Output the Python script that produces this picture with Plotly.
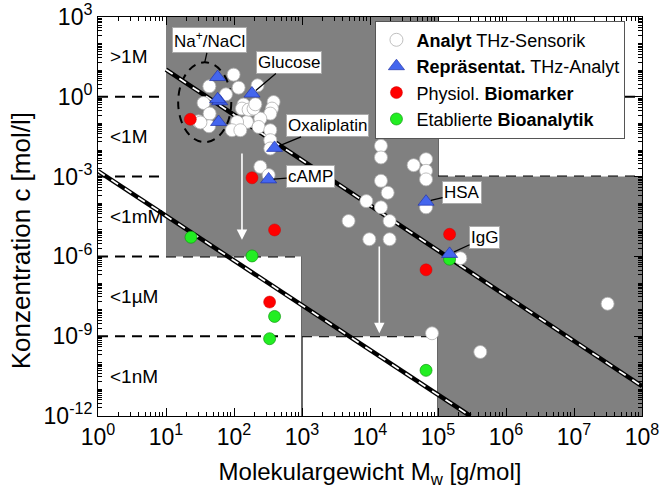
import math
import plotly.graph_objects as go

# ---------------- data ----------------
# Analyt THz-Sensorik (white circles): molecular weight [g/mol], concentration [mol/l]
analyt_M = [98.6, 43.4, 117, 76.2, 222, 35.7, 43.8, 30.1, 42.9, 138, 174, 382, 362, 342,
            244, 155, 111, 93.3, 124, 230, 342, 342, 342, 244, 323, 32.1, 131, 164, 194, 206,
            14500, 14500, 43800, 66700, 66700, 66700, 14500, 18200, 8830, 14500, 19400,
            4840, 9770, 19400, 66700, 213000, 81700, 419000, 3.12e7]
analyt_c = [6.81, 2.48, 2.21, 1.24, 2.70, 0.585, 0.234, 0.120, 0.0783, 0.509, 0.331, 0.638,
            0.361, 0.234, 0.152, 0.113, 0.113, 0.0555, 0.0555, 0.0736, 0.0555, 0.0234, 0.0114,
            0.00233, 0.00114, 0.108, 0.36, 0.33, 0.36, 0.524,
            0.0143, 0.00525, 0.0027, 0.00453, 0.00165, 7.85e-4, 6.95e-4, 2.47e-4, 1.2e-4,
            7.0e-5, 2.14e-5, 2.14e-5, 4.42e-6, 4.42e-6, 7.0e-5, 8.55e-7, 1.29e-9, 2.55e-10,
            1.66e-8]

# Repräsentative THz-Analyte (blue triangles)
rep_M = [57.4, 61.7, 57.4, 59.4, 184, 395, 323, 66700, 148000]
rep_c = [5.53, 0.68, 0.805, 0.113, 1.32, 0.012, 7.85e-4, 1.14e-4, 1.24e-6]
rep_names = ["", "", "", "", "Glucose", "Oxaliplatin", "cAMP", "HSA", "IgG"]

# Physiologische Biomarker (red)
bio_M = [22.8, 184, 395, 334, 148000, 66700]
bio_c = [0.143, 9.0e-4, 9.86e-6, 1.92e-8, 6.79e-6, 3.12e-7]

# Etablierte Bioanalytik (green)
etab_M = [23.3, 184, 395, 334, 148000, 66700]
etab_c = [5.25e-6, 1.04e-6, 5.52e-9, 8.05e-10, 7.85e-7, 5.21e-11]

# Na+/NaCl group (dashed ellipse)
nacl_M_range = [15.1, 91.2]
nacl_c_range = [0.0197, 19.7]

# diagonal limit lines
upper_line_M = [1e1, 1e8]
upper_line_c = [10 ** 1.02, 10 ** -10.88]
lower_line_M = [1.0, 10 ** 5.475]
lower_line_c = [10 ** -2.79, 1e-12]

# white arrows (shift of detection limit)
arrow_M = [131, 13700]
arrow_c_from = [8.5e-3, 2.7e-6]
arrow_c_to = [4.2e-6, 1.3e-9]

# concentration levels / labels and mass boundaries
conc_levels = [1.0, 1e-3, 1e-6, 1e-9]
conc_bands = [3, 0, -3, -6, -9, -12]
conc_labels = [">1M", "<1M", "<1mM", "<1µM", "<1nM"]
mass_levels = [1e3, 1e5]
# gray regions: (M from, M to, c from, c to)
regions = [(1e1, 1e3, 1e-6, 1e3), (1e3, 1e5, 1e-9, 1e3), (1e5, 1e8, 1e-12, 1e-3)]

x_exps = list(range(0, 9))
y_exps = [3, 0, -3, -6, -9, -12]

FONT = "Arial, Liberation Sans, sans-serif"

fig = go.Figure()

shapes = []
for (m0, m1, c0, c1) in regions:
    shapes.append(dict(type="rect", xref="x", yref="y", x0=m0, x1=m1, y0=c0, y1=c1,
                       fillcolor="#808080", line=dict(width=0), layer="below"))
for m in mass_levels:
    shapes.append(dict(type="line", xref="x", yref="paper", x0=m, x1=m, y0=0, y1=1,
                       line=dict(color="black", width=1.2), layer="below"))
for c in conc_levels:
    shapes.append(dict(type="line", xref="paper", yref="y", x0=0, x1=1, y0=c, y1=c,
                       line=dict(color="black", width=2, dash="10px,7px"), layer="below"))
shapes.append(dict(type="circle", xref="x", yref="y",
                   x0=nacl_M_range[0], x1=nacl_M_range[1],
                   y0=nacl_c_range[0], y1=nacl_c_range[1],
                   line=dict(color="black", width=2, dash="8px,6px"), layer="below"))

# diagonal black/white dashed lines
for lm, lc in [(upper_line_M, upper_line_c), (lower_line_M, lower_line_c)]:
    fig.add_trace(go.Scatter(x=lm, y=lc, mode="lines", line=dict(color="black", width=4.5),
                             showlegend=False, hoverinfo="skip"))
    fig.add_trace(go.Scatter(x=lm, y=lc, mode="lines",
                             line=dict(color="white", width=1.8, dash="8px,8px"),
                             showlegend=False, hoverinfo="skip"))

fig.add_trace(go.Scatter(x=analyt_M, y=analyt_c, mode="markers",
                         name="<b>Analyt</b> THz-Sensorik", legendrank=1, legendgroup="a",
                         marker=dict(symbol="circle", size=13, color="white",
                                     line=dict(color="#b0b0b0", width=0.8))))
fig.add_trace(go.Scatter(x=bio_M, y=bio_c, mode="markers",
                         name="Physiol. <b>Biomarker</b>", legendrank=3, legendgroup="c",
                         marker=dict(symbol="circle", size=12, color="#ff0000",
                                     line=dict(color="#cc0000", width=0.5))))
fig.add_trace(go.Scatter(x=etab_M, y=etab_c, mode="markers",
                         name="Etablierte <b>Bioanalytik</b>", legendrank=4, legendgroup="d",
                         marker=dict(symbol="circle", size=12, color="#22ee22",
                                     line=dict(color="#119911", width=0.7))))
fig.add_trace(go.Scatter(x=rep_M, y=rep_c, mode="markers",
                         name="<b>Repräsentat.</b> THz-Analyt", legendrank=2, legendgroup="b",
                         marker=dict(symbol="triangle-up", size=14, color="#4466ee",
                                     line=dict(color="#2233aa", width=0.7))))

annotations = []
# concentration band labels on the left
for i, lab in enumerate(conc_labels):
    mid = (conc_bands[i] + conc_bands[i + 1]) / 2
    annotations.append(dict(xref="paper", yref="y", x=0.018, y=mid, text=lab, showarrow=False,
                            xanchor="left", yanchor="middle",
                            font=dict(family=FONT, size=19, color="black")))

label_offsets = {"Glucose": (37, -31), "Oxaliplatin": (53, -22), "cAMP": (42, -3),
                 "HSA": (36, -9), "IgG": (35, -16)}
for m, c, nm in zip(rep_M, rep_c, rep_names):
    if nm:
        ax, ay = label_offsets[nm]
        annotations.append(dict(x=math.log10(m), y=math.log10(c), xref="x", yref="y",
                                text=nm, showarrow=True, arrowhead=0, arrowwidth=1.3,
                                arrowcolor="black", ax=ax, ay=ay, standoff=5,
                                bgcolor="white", bordercolor="#aaaaaa", borderwidth=1,
                                borderpad=1, font=dict(family=FONT, size=17, color="black")))
# Na+/NaCl label pointing at the ellipse top
annotations.append(dict(x=(math.log10(nacl_M_range[0]) + math.log10(nacl_M_range[1])) / 2,
                        y=math.log10(nacl_c_range[1]), xref="x", yref="y",
                        text="Na<sup>+</sup>/NaCl", showarrow=True, arrowhead=0,
                        arrowwidth=1.3, arrowcolor="black", ax=5, ay=-22, standoff=0,
                        bgcolor="white", bordercolor="#aaaaaa", borderwidth=1, borderpad=1,
                        font=dict(family=FONT, size=17, color="black")))
# white arrows
for m, c0, c1 in zip(arrow_M, arrow_c_from, arrow_c_to):
    annotations.append(dict(x=math.log10(m), y=math.log10(c1), ax=math.log10(m),
                            ay=math.log10(c0), xref="x", yref="y", axref="x", ayref="y",
                            text="", showarrow=True, arrowhead=2, arrowsize=1.3,
                            arrowwidth=1.6, arrowcolor="white"))
# y-axis title (as rotated text, slightly below plot centre like the reference)
annotations.append(dict(xref="paper", yref="paper", x=-0.14, y=0.44, textangle=-90,
                        text="Konzentration c [mol/l]", showarrow=False,
                        xanchor="center", yanchor="middle",
                        font=dict(family=FONT, size=26, color="black")))

minor_x = [k * 10.0 ** e for e in range(0, 8) for k in range(2, 10)]
minor_y = [k * 10.0 ** e for e in range(-12, 3) for k in range(1, 10) if not (k == 1 and e % 3 == 0)]

fig.update_layout(
    width=661, height=500,
    margin=dict(l=98, r=19, t=16.5, b=83.5, autoexpand=False),
    paper_bgcolor="white", plot_bgcolor="white",
    font=dict(family=FONT, color="black"),
    shapes=shapes, annotations=annotations,
    showlegend=True,
    legend=dict(x=0.51, y=0.991, xanchor="left", yanchor="top", bgcolor="white",
                bordercolor="#555555", borderwidth=1, font=dict(family=FONT, size=18),
                tracegroupgap=0, itemwidth=30),
    xaxis=dict(type="log", range=[0, 8], showgrid=False, zeroline=False, automargin=False,
               showline=True, linecolor="black", linewidth=1, mirror="allticks",
               ticks="inside", ticklen=8, tickcolor="black",
               tickvals=[10.0 ** e for e in x_exps],
               ticktext=[f"10<sup>{e}</sup>" for e in x_exps],
               tickfont=dict(family=FONT, size=23),
               minor=dict(tickvals=minor_x, ticks="inside", ticklen=4, tickcolor="black"),
               title=dict(text="Molekulargewicht M<sub>w</sub> [g/mol]",
                          font=dict(family=FONT, size=24), standoff=14)),
    yaxis=dict(type="log", range=[-12, 3], showgrid=False, zeroline=False, automargin=False,
               showline=True, linecolor="black", linewidth=1, mirror="allticks",
               ticks="inside", ticklen=8, tickcolor="black",
               tickvals=[10.0 ** e for e in y_exps],
               ticktext=[f"10<sup>{e}</sup>" for e in y_exps],
               tickfont=dict(family=FONT, size=23),
               minor=dict(tickvals=minor_y, ticks="inside", ticklen=4, tickcolor="black")),
)

fig.write_html("out.html")
